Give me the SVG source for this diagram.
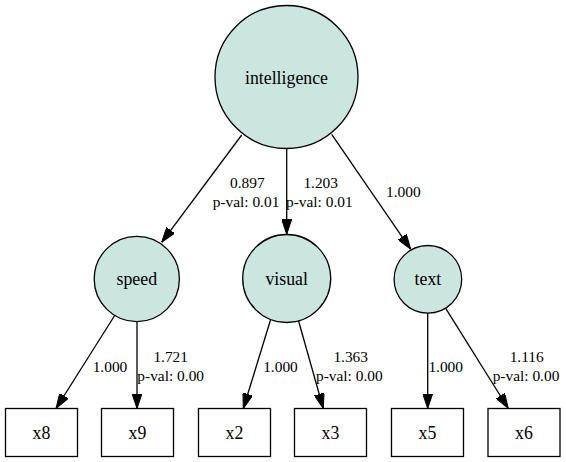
<svg xmlns="http://www.w3.org/2000/svg" width="566" height="462" viewBox="0 0 566 462">
<defs>
<style>
.lat{fill:#cbe5df;stroke:#000;stroke-width:1.3}
.obs{fill:#fff;stroke:#000;stroke-width:1.3}
.nl{font-size:17.8px;fill:#000;text-anchor:middle}
.el{font-size:15.4px;fill:#000;text-anchor:middle}
.e{stroke:#000;stroke-width:1.3;fill:none;marker-end:url(#ah)}
</style>
<marker id="ah" viewBox="0 0 15 10" refX="15" refY="5" markerWidth="15" markerHeight="10" markerUnits="userSpaceOnUse" orient="auto">
<path d="M0,0 L15,5 L0,10 z" fill="#000" stroke="#000" stroke-width="1"/>
</marker>
</defs>
<rect width="566" height="462" fill="#fff"/>
<g font-family="'Liberation Serif', 'Times New Roman', serif">
<g id="connectors">
<line class="e" x1="241.7" y1="135" x2="161.7" y2="242.3"/>
<line class="e" x1="286.7" y1="148.5" x2="286.7" y2="234.3"/>
<line class="e" x1="331.7" y1="134.3" x2="410.7" y2="249.3"/>
<line class="e" x1="115" y1="315" x2="56" y2="408.5"/>
<line class="e" x1="137" y1="321.5" x2="137" y2="408.5"/>
<line class="e" x1="270.5" y1="320" x2="243.3" y2="408.5"/>
<line class="e" x1="298.3" y1="320" x2="323.3" y2="408.5"/>
<line class="e" x1="427.7" y1="313" x2="427.7" y2="408.5"/>
<line class="e" x1="445.7" y1="308.3" x2="508.3" y2="408.5"/>
<text class="el" x="247.3" y="188">0.897</text>
<text class="el" x="246" y="207">p-val: 0.01</text>
<text class="el" x="320.7" y="188">1.203</text>
<text class="el" x="319.3" y="207">p-val: 0.01</text>
<text class="el" x="403.3" y="197">1.000</text>
<text class="el" x="110" y="372">1.000</text>
<text class="el" x="170.7" y="362">1.721</text>
<text class="el" x="170.7" y="381">p-val: 0.00</text>
<text class="el" x="280.5" y="372">1.000</text>
<text class="el" x="350.7" y="362">1.363</text>
<text class="el" x="349.3" y="381">p-val: 0.00</text>
<text class="el" x="445.7" y="372">1.000</text>
<text class="el" x="526.7" y="362">1.116</text>
<text class="el" x="526" y="381">p-val: 0.00</text>
</g>
<g id="intelligence">
<circle class="lat" cx="286.5" cy="77" r="71.5"/>
<text class="nl" x="286.5" y="84">intelligence</text>
</g>
<g id="speed">
<circle class="lat" cx="136.8" cy="279" r="42.6"/>
<text class="nl" x="136.8" y="285.3">speed</text>
</g>
<g id="visual">
<circle class="lat" cx="286.7" cy="278.5" r="44"/>
<text class="nl" x="286.7" y="285">visual</text>
</g>
<g id="text">
<circle class="lat" cx="427.9" cy="279.3" r="33.8"/>
<text class="nl" x="427.9" y="285">text</text>
</g>
<g id="x8">
<rect class="obs" x="5.5" y="408.5" width="72" height="48"/>
<text class="nl" x="41.5" y="439">x8</text>
</g>
<g id="x9">
<rect class="obs" x="101.5" y="408.5" width="72" height="48"/>
<text class="nl" x="137.5" y="439">x9</text>
</g>
<g id="x2">
<rect class="obs" x="198.5" y="408.5" width="72" height="48"/>
<text class="nl" x="234.5" y="439">x2</text>
</g>
<g id="x3">
<rect class="obs" x="294.5" y="408.5" width="72" height="48"/>
<text class="nl" x="330.5" y="439">x3</text>
</g>
<g id="x5">
<rect class="obs" x="391.5" y="408.5" width="72" height="48"/>
<text class="nl" x="427.5" y="439">x5</text>
</g>
<g id="x6">
<rect class="obs" x="488" y="408.5" width="72" height="48"/>
<text class="nl" x="524" y="439">x6</text>
</g>
</g>
</svg>
